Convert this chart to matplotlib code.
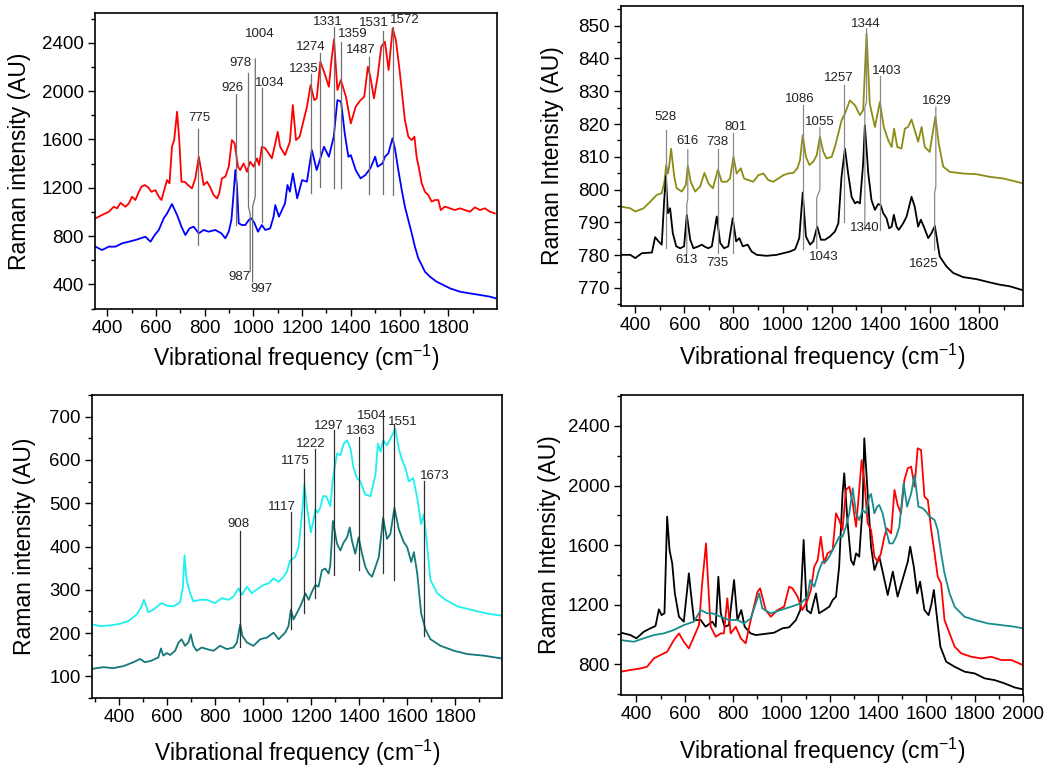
import matplotlib
matplotlib.use("Agg")
import matplotlib.pyplot as plt
import numpy as np

plt.rcParams['font.family'] = ['Liberation Sans', 'DejaVu Sans']
plt.rcParams['mathtext.default'] = 'regular'

# ---------------- Panel 1 (arriba izquierda) ----------------
red1_x = [352, 379, 407, 427, 441, 455, 475, 489, 502, 516, 530, 541, 554, 568, 582, 598, 612, 623, 636, 646,
          656, 666, 675, 687, 696, 705, 718, 732, 748, 762, 776, 787, 796, 810, 823, 837, 851, 860, 871, 885,
          899, 912, 923, 937, 946, 960, 974, 987, 1001, 1015, 1024, 1035, 1049, 1063, 1076, 1090,
          1100, 1110, 1130, 1150, 1162, 1175, 1190, 1200, 1220, 1235, 1250, 1260, 1275, 1290, 1310, 1320, 1331, 1345,
          1359, 1380, 1400, 1420, 1440, 1455, 1470, 1480, 1495, 1510, 1525, 1540, 1555, 1572, 1585, 1600,
          1622, 1636, 1650, 1661, 1670, 1681, 1691, 1704, 1718, 1732, 1745, 1759, 1769, 1786, 1807, 1827, 1848, 1868,
          1889, 1909, 1930, 1950, 1971, 1991]
red1_y = [946, 974, 1001, 1042, 1029, 1075, 1042, 1070, 1125, 1098, 1166, 1208, 1222, 1203, 1166, 1180, 1125, 1098, 1194, 1263,
          1236, 1539, 1594, 1829, 1594, 1249, 1249, 1222, 1194, 1277, 1456, 1332, 1222, 1249, 1203, 1139, 1111, 1153, 1277, 1291,
          1374, 1594, 1567, 1374, 1346, 1401, 1332, 1415, 1374, 1443, 1387, 1539, 1525, 1484, 1443, 1567,
          1663, 1539, 1470, 1580, 1884, 1594, 1622, 1705, 1870, 2050, 1925, 1939, 2243, 2160, 2036, 2243, 2428, 2008,
          2091, 1953, 1732, 1870, 1925, 1953, 2201, 2119, 1939, 2119, 2367, 2408, 2174, 2519, 2422, 2174,
          1760, 1622, 1594, 1622, 1456, 1346, 1236, 1167, 1139, 1084, 1098, 1098, 1015, 1043, 1029, 1015, 1029, 1015,
          1001, 1037, 1015, 1029, 1001, 987]
blue1_x = [352, 379, 407, 434, 462, 489, 516, 537, 557, 578, 595, 612, 632, 646, 666, 687, 705, 721, 738, 755,
           776, 796, 817, 844, 869, 885, 899, 910, 919, 926, 933, 940, 953, 967, 981, 992, 1005, 1019, 1035, 1049,
           1069, 1083, 1090, 1105, 1130, 1140, 1150, 1162, 1180, 1200, 1220, 1240, 1260, 1290, 1310, 1330, 1345, 1360,
           1375, 1390, 1400, 1420, 1440, 1460, 1480, 1500, 1510, 1530, 1540, 1554, 1571, 1581, 1595, 1609, 1622, 1636,
           1650, 1663, 1677, 1691, 1704, 1725, 1752, 1780, 1807, 1848, 1889, 1930, 1971, 1995]
blue1_y = [712, 684, 712, 712, 740, 753, 767, 781, 794, 753, 808, 850, 946, 987, 1065, 974, 877, 808, 863, 877,
           822, 850, 836, 850, 822, 781, 836, 932, 1153, 1346, 1208, 905, 891, 891, 932, 946, 905, 836, 891, 850,
           863, 960, 1056, 960, 1070, 1222, 1167, 1318, 1112, 1263, 1250, 1512, 1346, 1539, 1456, 1622, 1925, 1912,
           1650, 1456, 1470, 1346, 1277, 1305, 1360, 1456, 1374, 1401, 1456, 1484, 1608, 1525, 1346, 1181, 1043, 932,
           822, 712, 615, 560, 505, 463, 422, 394, 367, 339, 325, 312, 298, 284]

p1_labels = ['775', '926', '978', '1004', '1034', '1235', '1274', '1331', '1359', '1487', '1531', '1572', '987', '997']
p1_lab_x = [778, 915, 945, 1028, 1067, 1206, 1236, 1306, 1407, 1441, 1493, 1623, 944, 1035]
p1_lab_y = [1774, 2022, 2229, 2474, 2069, 2179, 2367, 2574, 2469, 2339, 2560, 2588, 463, 361]
p1_lines_x = [[774, 774], [927, 927], [980, 980, 987, 987], [1008, 1008, 997, 997], [1034, 1034], [1236, 1236],
              [1274, 1274], [1329, 1329], [1358, 1358], [1476, 1476], [1534, 1534], [1575, 1575]]
p1_lines_y = [[1683, 725], [1972, 888], [2146, 1040, 985, 505], [2265, 1125, 1043, 420], [2022, 918], [2141, 1159],
              [2317, 1203], [2527, 1195], [2408, 1195], [2284, 1147], [2499, 1147], [2532, 1139]]

# ---------------- Panel 2 (arriba derecha) ----------------
olive2_x = [342, 380, 400, 434, 461, 488, 508, 519, 526, 533, 538, 546, 559, 569, 590, 606, 614, 626, 644, 664,
            682, 698, 716, 737, 752, 773, 786, 800, 813, 830, 843, 861, 881, 901, 922, 942, 962, 983, 1003, 1023,
            1044, 1060, 1071, 1082, 1095, 1109, 1125, 1139, 1152, 1166, 1179, 1200, 1213, 1227, 1240, 1254, 1274, 1295, 1315, 1328,
            1342, 1355, 1376, 1396, 1412, 1430, 1444, 1454, 1467, 1484, 1498, 1511, 1525, 1538, 1552, 1566, 1579, 1599, 1622, 1636,
            1654, 1681, 1735, 1789, 1843, 1898, 1952, 1979]
olive2_y = [794.8, 794.3, 793.3, 794.3, 796.3, 798.4, 798.9, 802.4, 807.5, 804.9, 807.0, 812.5, 803.9, 800.4, 799.4, 801.4, 807.3, 802.4, 799.4, 800.9,
            805.1, 801.9, 800.4, 806.1, 802.4, 802.4, 803.4, 810.0, 804.9, 806.5, 803.4, 802.9, 802.4, 804.4, 804.9, 802.9, 802.4, 803.4, 804.4, 804.9,
            805.1, 806.5, 809.0, 816.6, 810.0, 807.5, 808.5, 810.5, 816.1, 811.5, 809.5, 810.0, 813.0, 817.1, 821.1, 823.2, 827.2, 825.7, 822.7, 824.2,
            847.5, 826.2, 819.1, 826.7, 819.1, 815.1, 813.0, 818.6, 813.0, 812.5, 818.6, 819.1, 821.4, 818.1, 814.6, 819.1, 813.0, 811.5, 822.2, 814.0,
            807.0, 805.4, 804.9, 804.7, 803.9, 803.4, 802.4, 801.9]
black2_x = [342, 380, 400, 427, 468, 481, 495, 508, 518, 525, 533, 542, 553, 567, 583, 599, 610, 624, 637, 658,
            671, 685, 698, 712, 732, 746, 762, 779, 797, 811, 824, 838, 858, 874, 895, 935, 976, 1003, 1030, 1051,
            1068, 1082, 1095, 1112, 1125, 1141, 1156, 1173, 1193, 1213, 1227, 1240, 1254, 1267, 1281, 1295, 1304, 1315, 1328, 1335,
            1349, 1362, 1376, 1389, 1399, 1410, 1423, 1434, 1444, 1453, 1464, 1473, 1491, 1505, 1525, 1538, 1552, 1563, 1575, 1593,
            1606, 1620, 1633, 1640, 1667, 1694, 1735, 1789, 1843, 1884, 1925, 1979]
black2_y = [780.1, 780.1, 779.1, 780.6, 780.8, 785.5, 784.2, 783.2, 796.8, 804.1, 792.8, 794.3, 786.7, 782.7, 782.1, 782.7, 792.3, 784.7, 782.1, 782.7,
            783.2, 782.5, 782.1, 782.7, 791.8, 783.7, 782.1, 782.7, 791.3, 784.2, 785.2, 782.7, 783.2, 781.1, 780.1, 779.8, 780.1, 780.6, 781.1, 781.8,
            785.2, 799.1, 785.7, 783.2, 784.2, 788.7, 784.7, 784.7, 785.7, 787.2, 789.7, 803.9, 812.5, 804.9, 797.8, 795.8, 796.3, 795.8, 808.0, 819.6,
            804.9, 796.8, 793.8, 795.6, 795.3, 792.8, 791.3, 788.2, 788.7, 792.3, 788.7, 787.7, 789.7, 791.8, 797.8, 794.8, 788.7, 790.8, 788.7, 785.2,
            786.7, 788.9, 782.7, 779.6, 776.6, 774.6, 773.3, 772.7, 771.7, 771.0, 770.5, 769.3]

p2_labels = ['528', '616', '613', '738', '735', '801', '1086', '1055', '1043', '1257', '1344', '1340', '1403', '1629', '1625']
p2_lab_x = [522, 614, 610, 736, 736, 807, 1071, 1152, 1166, 1227, 1338, 1335, 1423, 1627, 1575]
p2_lab_y = [822.2, 814.9, 778.4, 814.6, 777.6, 819.1, 827.5, 820.6, 779.4, 834.1, 850.5, 788.2, 836.1, 826.9, 777.3]
p2_lines_x = [[526, 526], [614, 614, 610, 610], [737, 737], [800, 800], [1082, 1082], [1152, 1152, 1139, 1139],
              [1251, 1251], [1342, 1342, 1335, 1335], [1398, 1398], [1624, 1624, 1619, 1619]]
p2_lines_y = [[818.1, 782.1], [812.2, 797.0, 795.5, 780.6], [812.5, 780.6], [817.3, 780.6], [825.9, 781.8],
              [818.8, 800.0, 797.5, 782.1], [831.8, 790.0], [849.0, 827.0, 825.0, 787.7], [834.5, 787.7],
              [825.2, 801.0, 799.0, 781.6]]

# ---------------- Panel 3 (abajo izquierda) ----------------
cyan3_x = [290, 321, 363, 404, 439, 474, 495, 504, 522, 543, 564, 578, 599, 627, 654, 666, 673, 682, 696, 710,
           738, 766, 800, 828, 856, 877, 898, 912, 933, 953, 981, 1002, 1023, 1044, 1065, 1085, 1099, 1113, 1134, 1148,
           1162, 1172, 1183, 1199, 1211, 1218, 1227, 1238, 1250, 1263, 1280, 1291, 1308, 1322, 1336, 1350, 1364, 1377, 1391, 1405,
           1426, 1447, 1468, 1478, 1489, 1500, 1516, 1537, 1551, 1565, 1579, 1593, 1607, 1625, 1642, 1658, 1669, 1681, 1697, 1725,
           1760, 1808, 1864, 1920, 1961, 1993]
cyan3_y = [220.0, 216.2, 217.7, 221.5, 227.6, 242.8, 261.8, 276.9, 248.1, 254.2, 263.3, 269.4, 263.3, 261.8, 270.9, 305.1, 379.5, 322.5, 292.1, 273.2,
           276.9, 276.9, 269.4, 280.8, 276.9, 284.6, 303.5, 288.4, 307.3, 292.1, 303.5, 311.1, 314.9, 326.3, 318.7, 330.1, 341.5, 368.1, 375.7, 398.5,
           474.4, 542.8, 489.6, 432.7, 463.0, 485.8, 478.2, 489.6, 516.2, 516.2, 493.4, 557.9, 614.9, 611.1, 637.7, 645.3, 626.3, 580.8, 557.9, 550.4,
           520.0, 516.2, 565.6, 637.7, 618.7, 645.3, 633.9, 656.7, 671.9, 626.3, 599.7, 580.8, 550.4, 557.9, 512.4, 451.6, 474.4, 413.7, 322.5, 292.1,
           276.9, 261.8, 254.2, 246.6, 242.8, 240.5]
teal3_x = [290, 335, 376, 418, 460, 488, 508, 536, 564, 575, 585, 599, 613, 634, 648, 661, 675, 689, 699, 710,
           724, 745, 766, 794, 821, 849, 877, 891, 905, 914, 933, 960, 988, 1016, 1044, 1065, 1092, 1106, 1116, 1127,
           1141, 1155, 1169, 1176, 1190, 1204, 1218, 1231, 1245, 1259, 1273, 1280, 1291, 1308, 1322, 1336, 1350, 1361, 1370, 1384,
           1398, 1412, 1426, 1440, 1454, 1468, 1482, 1500, 1516, 1530, 1547, 1565, 1586, 1600, 1617, 1628, 1642, 1658, 1676, 1697,
           1739, 1795, 1850, 1920, 1989]
teal3_y = [117.5, 121.3, 119.0, 123.6, 132.7, 140.3, 132.7, 136.4, 144.0, 164.5, 147.8, 153.9, 149.4, 159.2, 178.2, 185.8, 170.6, 178.2, 197.2, 170.6,
           159.2, 166.8, 163.0, 159.2, 170.6, 163.0, 166.8, 178.2, 220.0, 193.4, 178.2, 170.6, 185.8, 189.6, 201.0, 185.8, 201.0, 216.2, 254.2, 231.4,
           246.6, 261.8, 280.8, 292.1, 276.9, 296.0, 311.1, 307.3, 345.3, 349.1, 337.7, 356.7, 459.2, 406.1, 390.9, 409.9, 421.3, 444.0, 413.7, 383.3,
           421.3, 383.3, 352.9, 337.7, 330.1, 352.9, 375.7, 466.8, 417.5, 428.9, 489.6, 440.2, 409.9, 398.5, 364.3, 387.1, 337.7, 246.6, 208.6, 185.8,
           170.6, 159.2, 151.6, 147.8, 141.8]

p3_labels = ['908', '1117', '1175', '1222', '1297', '1363', '1504', '1551', '1673']
p3_lab_x = [898, 1078, 1134, 1197, 1273, 1408, 1454, 1583, 1714]
p3_lab_y = [451.6, 491.1, 597.5, 637.7, 679.5, 665.8, 702.3, 688.6, 563.3]
p3_line_x = [905, 1116, 1172, 1218, 1294, 1398, 1500, 1547, 1672]
p3_line_top = [436.4, 480.5, 578.5, 626.3, 668.1, 652.9, 698.5, 683.3, 550.4]
p3_line_bot = [166.8, 208.6, 246.6, 280.8, 334.0, 345.3, 337.7, 322.5, 193.4]

# ---------------- Panel 4 (abajo derecha) ----------------
black4_x = [336, 375, 400, 430, 458, 479, 493, 504, 516, 527, 537, 548, 559, 576, 596, 617, 624, 638, 666, 686,
            714, 728, 739, 749, 765, 783, 804, 818, 834, 848, 873, 894, 928, 970, 1004, 1032, 1060, 1078, 1092, 1105,
            1122, 1143, 1156, 1177, 1198, 1212, 1226, 1239, 1253, 1260, 1274, 1288, 1299, 1309, 1322, 1336, 1343, 1357, 1371, 1385,
            1405, 1419, 1440, 1461, 1481, 1509, 1523, 1533, 1548, 1562, 1574, 1592, 1609, 1620, 1631, 1645, 1658, 1682, 1717, 1758,
            1800, 1841, 1883, 1924, 1965, 2000]
black4_y = [1011, 995, 973, 1017, 1040, 1056, 1168, 1129, 1141, 1791, 1566, 1477, 1275, 1118, 1085, 1410, 1298, 1096, 1096, 1051,
            1085, 1051, 1387, 1141, 1051, 1062, 1365, 1096, 1163, 1051, 1006, 995, 1002, 1011, 1040, 1047, 1096, 1163, 1634, 1163,
            1141, 1275, 1141, 1163, 1185, 1230, 1253, 1454, 1947, 2082, 1746, 1499, 1466, 1544, 1522, 1858, 2317, 1947, 1589, 1432,
            1522, 1421, 1264, 1421, 1253, 1410, 1488, 1589, 1454, 1275, 1354, 1163, 1129, 1197, 1298, 1096, 917, 816, 782, 749,
            737, 704, 692, 670, 643, 630]
red4_x = [336, 375, 417, 444, 472, 500, 527, 555, 576, 596, 617, 638, 659, 672, 688, 696, 707, 728, 749, 762,
          776, 790, 811, 832, 852, 873, 901, 912, 935, 956, 984, 1011, 1032, 1046, 1067, 1087, 1108, 1122, 1136, 1150,
          1163, 1177, 1191, 1212, 1226, 1239, 1253, 1267, 1281, 1295, 1309, 1322, 1332, 1343, 1357, 1371, 1385, 1399, 1412, 1426,
          1437, 1454, 1468, 1481, 1495, 1509, 1523, 1537, 1551, 1564, 1578, 1592, 1606, 1620, 1634, 1647, 1661, 1675, 1696, 1717,
          1744, 1786, 1827, 1869, 1910, 1952, 2000]
red4_y = [749, 760, 771, 782, 838, 861, 883, 961, 1006, 950, 905, 984, 1062, 1342, 1611, 1365, 1051, 984, 1006, 1006,
          1242, 1006, 1051, 973, 939, 1096, 1286, 1309, 1163, 1118, 1163, 1185, 1320, 1309, 1253, 1163, 1230, 1298, 1454, 1499,
          1656, 1477, 1544, 1566, 1813, 1768, 1701, 1970, 1992, 1880, 1723, 1970, 2171, 2037, 1746, 1701, 1522, 1488, 1544, 1656,
          1712, 1678, 1970, 1869, 1813, 2037, 2115, 2127, 1992, 2250, 2239, 1925, 1903, 1701, 1544, 1387, 1342, 1096, 1006, 917,
          872, 849, 838, 849, 827, 827, 793]
teal4_x = [336, 389, 430, 472, 513, 555, 596, 638, 666, 693, 714, 749, 783, 818, 845, 873, 908, 921, 956, 997,
           1039, 1080, 1108, 1119, 1136, 1156, 1170, 1184, 1198, 1212, 1226, 1239, 1253, 1267, 1281, 1295, 1309, 1322, 1336, 1350,
           1364, 1371, 1385, 1396, 1405, 1419, 1433, 1447, 1461, 1475, 1488, 1506, 1520, 1537, 1551, 1567, 1585, 1599, 1613, 1634,
           1647, 1661, 1675, 1696, 1717, 1758, 1800, 1855, 1910, 1965, 2000]
teal4_y = [961, 950, 973, 995, 1006, 1029, 1062, 1085, 1163, 1141, 1141, 1118, 1096, 1096, 1073, 1107, 1275, 1174, 1141, 1163,
           1185, 1208, 1253, 1365, 1320, 1432, 1488, 1488, 1522, 1566, 1611, 1656, 1656, 1723, 1813, 1981, 1813, 1768, 1835, 1813,
           1925, 1943, 1813, 1858, 1869, 1813, 1701, 1611, 1611, 1656, 1723, 2015, 1858, 1947, 2071, 1858, 1847, 1824, 1791, 1768,
           1701, 1544, 1410, 1275, 1185, 1118, 1096, 1073, 1062, 1051, 1040]


def style_axes(ax, xlim, ylim, xmajor, xminor, ymajor, yminor, ylabel, xlab_y, ylab_x):
    ax.set_xlim(*xlim)
    ax.set_ylim(*ylim)
    ax.set_xticks(xmajor)
    ax.set_xticks(xminor, minor=True)
    ax.set_yticks(ymajor)
    ax.set_yticks(yminor, minor=True)
    ax.tick_params(which='both', direction='out', top=False, right=False, width=1.0, labelsize=13.5, pad=3)
    ax.tick_params(which='major', length=5)
    ax.tick_params(which='minor', length=3)
    for s in ax.spines.values():
        s.set_linewidth(1.2)
    ax.set_xlabel('Vibrational frequency (cm$^{-1}$)', fontsize=16.5)
    ax.set_ylabel(ylabel, fontsize=16.5)
    ax.xaxis.set_label_coords(0.5, xlab_y)
    ax.yaxis.set_label_coords(ylab_x, 0.5)


fig = plt.figure(figsize=(10.47, 7.69), dpi=100)
ax1 = fig.add_axes([0.0907, 0.5982, 0.3840, 0.3849])
ax2 = fig.add_axes([0.5931, 0.6021, 0.3840, 0.3901])
ax3 = fig.add_axes([0.0879, 0.0923, 0.3916, 0.3940])
ax4 = fig.add_axes([0.5931, 0.0962, 0.3840, 0.3901])

# Panel 1
ax1.plot(red1_x, red1_y, color='#ff0000', lw=1.3)
ax1.plot(blue1_x, blue1_y, color='#0000ff', lw=1.3)
for lx, ly in zip(p1_lines_x, p1_lines_y):
    ax1.plot(lx, ly, color='#707070', lw=0.9)
for t, tx, ty in zip(p1_labels, p1_lab_x, p1_lab_y):
    ax1.text(tx, ty, t, ha='center', va='center', fontsize=9.5, color='#222222')
style_axes(ax1, (350, 2000), (196, 2646), range(400, 1801, 200), range(500, 2000, 200),
           range(400, 2401, 400), range(200, 2601, 400), 'Raman intensity (AU)', -0.114, -0.159)

# Panel 2
ax2.plot(olive2_x, olive2_y, color='#8c8c14', lw=1.3)
ax2.plot(black2_x, black2_y, color='#000000', lw=1.3)
for lx, ly in zip(p2_lines_x, p2_lines_y):
    ax2.plot(lx, ly, color='#8a8a8a', lw=0.9)
for t, tx, ty in zip(p2_labels, p2_lab_x, p2_lab_y):
    ax2.text(tx, ty, t, ha='center', va='center', fontsize=9.5, color='#222222')
style_axes(ax2, (342, 1979), (764.5, 856), range(400, 1801, 200), range(500, 1901, 200),
           range(770, 851, 10), np.arange(765, 856, 10), 'Raman Intensity (AU)', -0.12, -0.142)

# Panel 3
ax3.plot(cyan3_x, cyan3_y, color='#1ef0f0', lw=1.3)
ax3.plot(teal3_x, teal3_y, color='#147878', lw=1.3)
for lx, lt, lb in zip(p3_line_x, p3_line_top, p3_line_bot):
    ax3.plot([lx, lx], [lt, lb], color='#303030', lw=0.9)
for t, tx, ty in zip(p3_labels, p3_lab_x, p3_lab_y):
    ax3.text(tx, ty, t, ha='center', va='center', fontsize=9.5, color='#222222')
style_axes(ax3, (288, 1995), (55, 744), range(400, 1801, 200), range(300, 1901, 200),
           range(100, 701, 100), range(50, 751, 100), 'Raman intensity (AU)', -0.132, -0.137)

# Panel 4
ax4.plot(black4_x, black4_y, color='#000000', lw=1.3)
ax4.plot(red4_x, red4_y, color='#ff0000', lw=1.3)
ax4.plot(teal4_x, teal4_y, color='#198c8c', lw=1.3)
style_axes(ax4, (336, 2000), (592, 2608), range(400, 2001, 200), range(500, 1901, 200),
           range(800, 2401, 400), range(600, 2601, 400), 'Raman Intensity (AU)', -0.136, -0.149)

fig.savefig('out.png', dpi=100)
